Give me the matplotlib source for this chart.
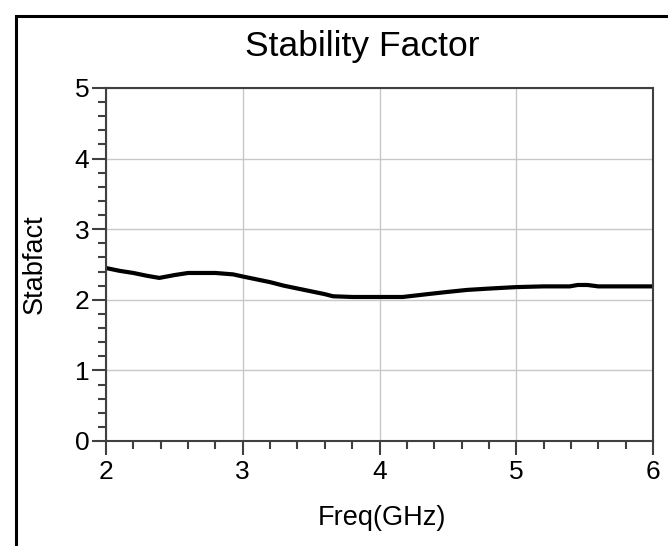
# Stability factor vs frequency
import matplotlib
matplotlib.use('Agg')
import matplotlib.pyplot as plt
from matplotlib.ticker import MultipleLocator
from matplotlib.patches import Rectangle

plt.rcParams['font.family'] = ['Liberation Sans', 'DejaVu Sans']

# Data
freq_ghz = [2.0, 2.1, 2.2, 2.3, 2.39, 2.5, 2.6, 2.7, 2.8, 2.93, 3.0, 3.1, 3.2,
            3.3, 3.4, 3.5, 3.6, 3.66, 3.8, 4.0, 4.17, 4.35, 4.49, 4.64, 4.81,
            5.0, 5.2, 5.39, 5.45, 5.52, 5.6, 5.8, 6.0]
stabfact = [2.45, 2.41, 2.38, 2.34, 2.31, 2.35, 2.38, 2.38, 2.38, 2.36, 2.33,
            2.29, 2.25, 2.20, 2.16, 2.12, 2.08, 2.05, 2.04, 2.04, 2.04, 2.08,
            2.11, 2.14, 2.16, 2.18, 2.19, 2.19, 2.21, 2.21, 2.19, 2.19, 2.19]

fig = plt.figure(figsize=(6.68, 5.46), dpi=100)
ax = fig.add_axes([106/668, 1 - 441/546, 547/668, 353/546])

ax.plot(freq_ghz, stabfact, color='black', linewidth=3.0, solid_capstyle='butt')

ax.set_xlim(2, 6)
ax.set_ylim(0, 5)
ax.xaxis.set_major_locator(MultipleLocator(1))
ax.xaxis.set_minor_locator(MultipleLocator(0.2))
ax.yaxis.set_major_locator(MultipleLocator(1))
ax.yaxis.set_minor_locator(MultipleLocator(0.2))
ax.grid(True, which='major', color='#c8c8c8', linewidth=1.0)
ax.set_axisbelow(True)

for sp in ax.spines.values():
    sp.set_color('#404040')
    sp.set_linewidth(1.5)

ax.tick_params(which='major', direction='out', length=10, width=1.5,
               color='#404040', labelsize=19)
ax.tick_params(axis='x', which='major', pad=4)
ax.tick_params(axis='y', which='major', pad=2)
ax.tick_params(which='minor', direction='out', length=6, width=1.5,
               color='#404040')

ax.set_xlabel('Freq(GHz)', fontsize=19.5)
ax.set_ylabel('Stabfact', fontsize=19.5)
ax.xaxis.set_label_coords(0.504, -0.18)
ax.yaxis.set_label_coords(-0.106, 0.5)

fig.text(362/668, 1 - 56/546, 'Stability Factor', fontsize=25.5,
         ha='center', va='baseline')

# outer frame
fig.patches.append(Rectangle((16/668, -0.1), 1.2, 1 - 16/546 + 0.1,
                             transform=fig.transFigure, fill=False,
                             edgecolor='black', linewidth=2.2))

fig.savefig('out.png', dpi=100)
